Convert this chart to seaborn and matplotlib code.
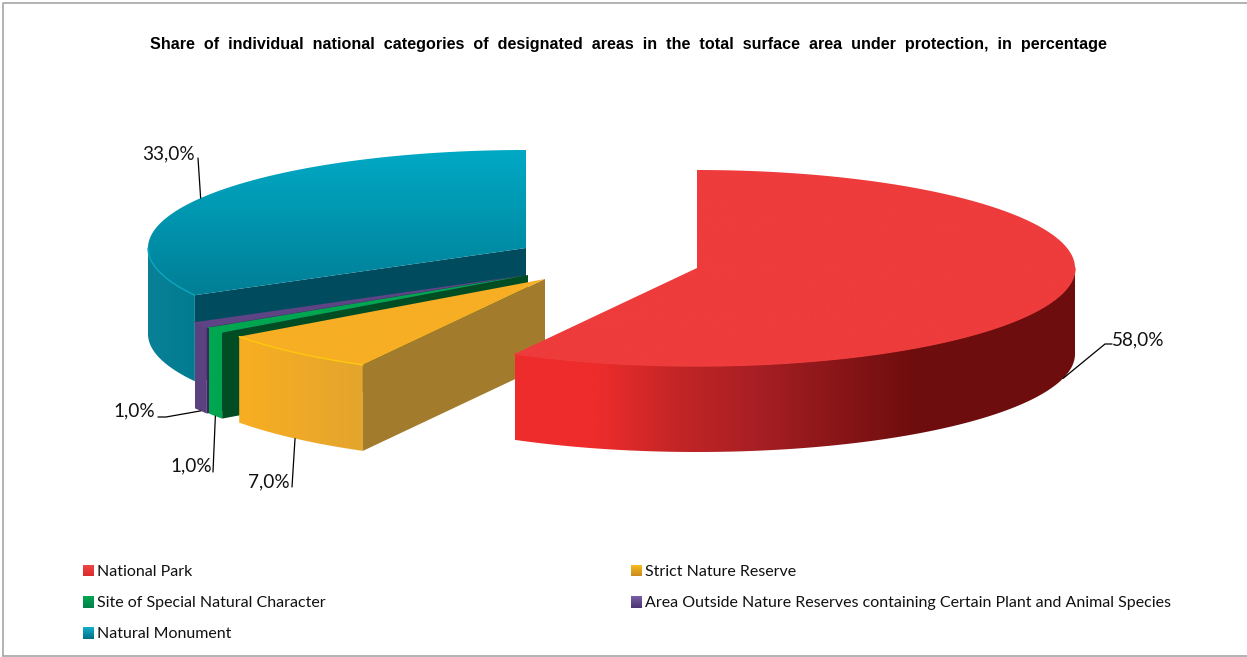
import numpy as np
import matplotlib
matplotlib.use("Agg")
import matplotlib.pyplot as plt
from matplotlib.patches import Polygon
import seaborn as sns

TITLE = ("Share  of  individual  national  categories  of  designated  areas  "
         "in  the  total  surface  area  under  protection,  in  percentage")
categories = ["National Park", "Strict Nature Reserve",
              "Site of Special Natural Character",
              "Area Outside Nature Reserves containing Certain Plant and Animal Species",
              "Natural Monument"]
shares = [58.0, 7.0, 1.0, 1.0, 33.0]

# Projection of the tilted disc, in figure pixels
RX, RY, DEPTH = 378.0, 98.0, 86.0
centre_x = [697.0, 545.0, 528.0, 526.0, 526.0]
centre_y = [268.0, 279.0, 275.0, 275.0, 248.0]

top_colors = [["#EE3B3B", "#EE3B3B"], ["#F7AE24", "#F7AE24"], ["#00A650", "#00A650"],
              ["#5F4485", "#5F4485"], ["#00A9C5", "#007F96"]]
wall_colors = [["#EE2C2C", "#EE2C2C", "#C42526", "#A81F24", "#8A1618", "#6E0D0E", "#6E0D0E", "#6E0D0E"],
               ["#F8AE21", "#E4A52E"], ["#00A650", "#00A650"],
               ["#5B4180", "#5B4180"], ["#0A8097", "#007C90"]]
cut_colors = [None, "#A27B2D", "#004D24", "#3A2A5C", "#004B5E"]
rim_colors = ["#EE3B3B", "#FFC90E", "#00A650", "#5F4485", "#0AA6BF"]
legend_colors = [["#F04848", "#DB2B2B"], ["#F9C21E", "#C98A1E"], ["#00A650", "#04804A"],
                 ["#7A5FA6", "#4A3370"], ["#12B0CB", "#006F85"]]

sns.set_theme(style="white")
plt.rcParams["font.family"] = ["Lato", "DejaVu Sans"]

fig = plt.figure(figsize=(12.47, 6.57), dpi=100, facecolor="white")
ax = fig.add_axes([0, 0, 1, 1])
ax.set_xlim(0, 1247)
ax.set_ylim(657, 0)
ax.set_autoscale_on(False)
ax.axis("off")


def rim(i, t):
    t = np.radians(t)
    return centre_x[i] + RX * np.sin(t), centre_y[i] - RY * np.cos(t)


def gradient_fill(pts, colors, horizontal, z):
    """Fill a polygon with a colour ramp running across its bounding box."""
    pts = np.asarray(pts)
    patch = Polygon(pts, closed=True, facecolor="none", edgecolor="none",
                    transform=ax.transData, zorder=z)
    ax.add_patch(patch)
    cmap = sns.blend_palette(colors, 256, as_cmap=True)
    ramp = np.linspace(0, 1, 256)
    ramp = ramp[None, :] if horizontal else ramp[:, None]
    x0, y0 = pts.min(axis=0)
    x1, y1 = pts.max(axis=0)
    im = ax.imshow(ramp, cmap=cmap, vmin=0, vmax=1, aspect="auto", interpolation="bilinear",
                   extent=(x0, x1, y1, y0), zorder=z)
    im.set_clip_path(patch)


edges = np.concatenate([[0], np.cumsum(shares)]) / np.sum(shares) * 360.0

for i, share in enumerate(shares):
    t0, t1 = edges[i], edges[i + 1]
    order = {4: 2, 3: 3, 2: 4, 1: 5, 0: 6}[i]  # back-to-front stacking
    arc_t = np.linspace(t0, t1, 240)
    ax_, ay_ = rim(i, arc_t)

    # Front wall: the part of the rim that faces the viewer
    lo, hi = max(t0, 90.0), min(t1, 270.0)
    if hi > lo:
        wt = np.linspace(lo, hi, 240)
        wx, wy = rim(i, wt)
        wall = np.r_[np.c_[wx, wy], np.c_[wx[::-1], wy[::-1] + DEPTH]]
        gradient_fill(wall, wall_colors[i], True, order)

    # Cut face along the leading edge of the slice
    if cut_colors[i] is not None:
        cx0, cy0 = rim(i, t0)
        cut = [(centre_x[i], centre_y[i]), (cx0, cy0),
               (cx0, cy0 + DEPTH), (centre_x[i], centre_y[i] + DEPTH)]
        ax.add_patch(Polygon(cut, closed=True, facecolor=cut_colors[i], edgecolor="none", zorder=order))

    # Top face
    top = np.r_[[(centre_x[i], centre_y[i])], np.c_[ax_, ay_]]
    gradient_fill(top, top_colors[i], False, order + 0.1)
    if hi > lo:
        rx_, ry_ = rim(i, np.linspace(lo, hi, 240))
        ax.plot(rx_, ry_, color=rim_colors[i], lw=1.0, zorder=order + 0.2)

# Value labels with leader lines running to the middle of each slice's rim
label_xy = [(1112, 339.5), (290, 482), (212, 466), (155, 411), (195, 154)]
elbow_xy = [(1105, 344), (292, 487), (213, 472), (166, 417), (198, 158)]
for i, share in enumerate(shares):
    mid = (edges[i] + edges[i + 1]) / 2
    mx, my = rim(i, mid)
    if 90 <= mid <= 270:
        my += DEPTH
    text = f"{share:.1f}".replace(".", ",") + "%"
    lx, ly = label_xy[i]
    ha = "left" if i == 0 else "right"
    ax.text(lx, ly, text, ha=ha, va="center", fontsize=13.7, color="#111111", zorder=10)
    ex, ey = elbow_xy[i]
    pts_x, pts_y = [mx, ex], [my, ey]
    if i == 0:
        pts_x.append(1112); pts_y.append(344)
    if i == 3:
        pts_x.append(158); pts_y.append(417)
    ax.plot(pts_x, pts_y, color="black", lw=0.9, zorder=9)

ax.text(628, 44, TITLE, ha="center", va="center", fontsize=11.6, fontweight="bold",
        family=["Liberation Sans"], color="black")

# Legend in two columns, reading left to right
legend_x = [83, 631]
legend_y = [570.5, 602, 633]
for i, name in enumerate(categories):
    col, row = i % 2, i // 2
    x, y = legend_x[col], legend_y[row]
    gradient_fill([(x, y - 6), (x + 11, y - 6), (x + 11, y + 6), (x, y + 6)],
                  legend_colors[i], False, 8)
    ax.text(x + 14, y + 1, name, ha="left", va="center", fontsize=11.55, color="#111111")

# Chart frame
for seg in ([(3, 656), (3, 3), (1247, 3)], [(3, 656), (1247, 656)]):
    xs, ys = zip(*seg)
    ax.plot(xs, ys, color="#A6A6A6", lw=1.2, zorder=12)

fig.savefig("out.png", dpi=100)
